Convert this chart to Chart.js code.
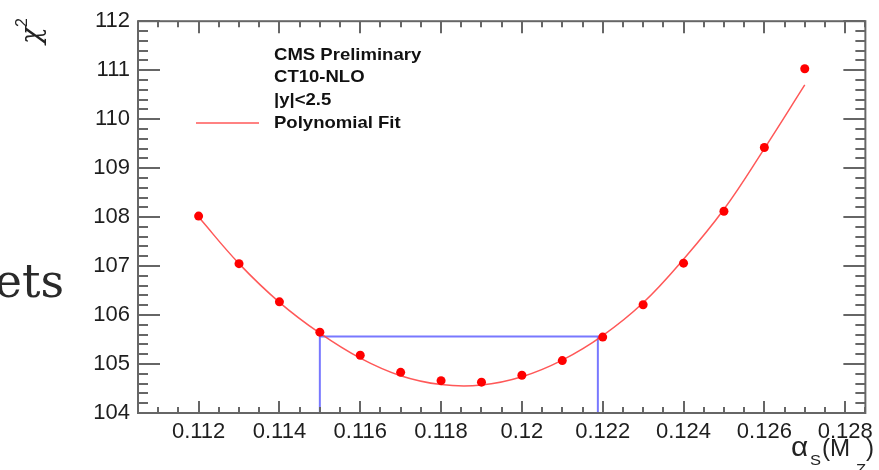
<!DOCTYPE html>
<html>
<head>
<meta charset="utf-8">
<script src="https://cdn.jsdelivr.net/npm/chart.js@4.4.1/dist/chart.umd.min.js"></script>
<style>
  html, body { margin: 0; padding: 0; background: #fff; }
  canvas { display: block; }
</style>
</head>
<body>
<canvas id="chi2-scan" width="879" height="470"></canvas>
<script>
var ctx = document.getElementById('chi2-scan').getContext('2d');

// chi2 scan points vs alpha_s(MZ)
const alphaS = [0.112, 0.113, 0.114, 0.115, 0.116, 0.117, 0.118, 0.119, 0.120, 0.121, 0.122, 0.123, 0.124, 0.125, 0.126, 0.127]
const chi2 = [108.02, 107.05, 106.27, 105.65, 105.18, 104.83, 104.66, 104.63, 104.77, 105.07, 105.55, 106.21, 107.06, 108.12, 109.42, 111.03]
// polynomial fit read at the same alpha_s values
const fitChi2 = [108.00, 107.05, 106.26, 105.63, 105.12, 104.76, 104.58, 104.57, 104.74, 105.08, 105.58, 106.25, 107.14, 108.16, 109.40, 110.70]
// chi2_min + 1 interval
const bandX = [0.115, 0.12188]
const bandChi2 = 105.56

const xTicks = [0.112, 0.114, 0.116, 0.118, 0.120, 0.122, 0.124, 0.126, 0.128]
const yTicks = [104, 105, 106, 107, 108, 109, 110, 111, 112]
const legendLines = ['CMS Preliminary', 'CT10-NLO', '|y|<2.5', 'Polynomial Fit']

const xMin = 0.1105, xMax = 0.1285
const yMin = 104, yMax = 112

const fitColor = 'rgba(255, 70, 70, 0.9)'
const frameColor = '#666'

// text drawn a little wider than the font, like the rest of the plot
function wideText(c, text, x, y, sx) {
    c.save()
    c.translate(x, y)
    c.scale(sx, 1)
    c.fillText(text, 0, 0)
    c.restore()
}

// frame with ROOT style inward ticks, legend and titles
const decorations = {
    id: 'decorations',
    afterDraw(chart) {
        const c = chart.ctx
        const a = chart.chartArea
        const xs = chart.scales.x
        const ys = chart.scales.y
        c.save()
        c.strokeStyle = frameColor
        c.lineWidth = 2
        c.strokeRect(a.left, a.top, a.right - a.left, a.bottom - a.top)

        c.beginPath()
        for (let i = Math.ceil(xMin / 0.0005); i * 0.0005 <= xMax + 1e-9; i++) {
            const px = Math.round(xs.getPixelForValue(i * 0.0005))
            const len = i % 4 === 0 ? 12 : 6
            c.moveTo(px, a.bottom); c.lineTo(px, a.bottom - len)
            c.moveTo(px, a.top); c.lineTo(px, a.top + len)
        }
        for (let i = Math.ceil(yMin / 0.2); i * 0.2 <= yMax + 1e-9; i++) {
            const py = Math.round(ys.getPixelForValue(i * 0.2))
            const len = i % 5 === 0 ? 22 : 10
            c.moveTo(a.left, py); c.lineTo(a.left + len, py)
            c.moveTo(a.right, py); c.lineTo(a.right - len, py)
        }
        c.stroke()

        // legend
        c.strokeStyle = fitColor
        c.lineWidth = 1.5
        c.beginPath()
        c.moveTo(196, 123); c.lineTo(259, 123)
        c.stroke()
        c.fillStyle = '#111'
        c.font = 'bold 17px "Liberation Sans", Arial, sans-serif'
        c.textBaseline = 'alphabetic'
        legendLines.forEach((t, i) => wideText(c, t, 274, 59.5 + i * 22.8, 1.09))

        // y title
        c.save()
        c.translate(40, 44)
        c.rotate(-Math.PI / 2)
        c.font = 'italic 28px "DejaVu Serif", serif'
        c.fillStyle = '#222'
        c.fillText('χ', 0, 0)
        c.font = '16px "Liberation Sans", Arial, sans-serif'
        c.fillText('2', 17, -13)
        c.restore()

        // x title
        c.fillStyle = '#222'
        c.font = '27px "Liberation Sans", Arial, sans-serif'
        wideText(c, 'α', 791, 456, 1.1)
        c.font = '23px "Liberation Sans", Arial, sans-serif'
        wideText(c, '(M', 822, 456, 1.05)
        wideText(c, ')', 866, 456, 1.05)
        c.font = '15px "Liberation Sans", Arial, sans-serif'
        wideText(c, 'S', 810, 465, 1.1)
        wideText(c, 'Z', 856, 474, 1.1)

        // slide text behind the plot
        c.font = '46px "DejaVu Serif", serif'
        c.fillStyle = '#2a2a2a'
        c.textAlign = 'right'
        c.fillText('ets', 64, 297)
        c.restore()
    }
}

var scanChart = new Chart(ctx, {
type: 'line',
data: {
    datasets: [{
        label: 'chi2min+1',
        data: [
            {x: bandX[0], y: yMin}, {x: bandX[0], y: bandChi2},
            {x: bandX[1], y: bandChi2}, {x: bandX[1], y: yMin}
        ],
        borderColor: 'rgba(120, 120, 255, 1)',
        borderWidth: 2,
        pointRadius: 0,
        tension: 0,
        order: 3
    }, {
        label: 'Polynomial Fit',
        data: alphaS.map((x, i) => ({x: x, y: fitChi2[i]})),
        borderColor: fitColor,
        borderWidth: 1.5,
        pointRadius: 0,
        tension: 0.4,
        order: 2
    }, {
        label: 'chi2',
        data: alphaS.map((x, i) => ({x: x, y: chi2[i]})),
        showLine: false,
        pointRadius: 4.5,
        pointBackgroundColor: '#ff0000',
        pointBorderWidth: 0,
        order: 1
    }]
},
options: {
    responsive: false,
    animation: false,
    devicePixelRatio: 1,
    layout: { padding: { top: 19, right: 11, left: 0, bottom: 0 } },
    scales: {
        x: {
            type: 'linear',
            min: xMin,
            max: xMax,
            afterBuildTicks: s => { s.ticks = xTicks.map(v => ({value: v})) },
            afterFit: s => { s.height = 57 },
            grid: { display: false, drawTicks: false },
            border: { display: false },
            ticks: {
                autoSkip: false,
                maxRotation: 0,
                padding: 6,
                color: '#1e1e1e',
                font: { family: '"Liberation Sans", Arial, sans-serif', size: 22 },
                callback: v => String(+v.toFixed(3))
            }
        },
        y: {
            min: yMin,
            max: yMax,
            afterBuildTicks: s => { s.ticks = yTicks.map(v => ({value: v})) },
            afterFit: s => { s.width = 138 },
            grid: { display: false, drawTicks: false },
            border: { display: false },
            ticks: {
                padding: 8,
                color: '#1e1e1e',
                font: { family: '"Liberation Sans", Arial, sans-serif', size: 22 }
            }
        }
    },
    plugins: {
        legend: { display: false },
        tooltip: { enabled: false }
    }
},
plugins: [decorations]
});
</script>
</body>
</html>
